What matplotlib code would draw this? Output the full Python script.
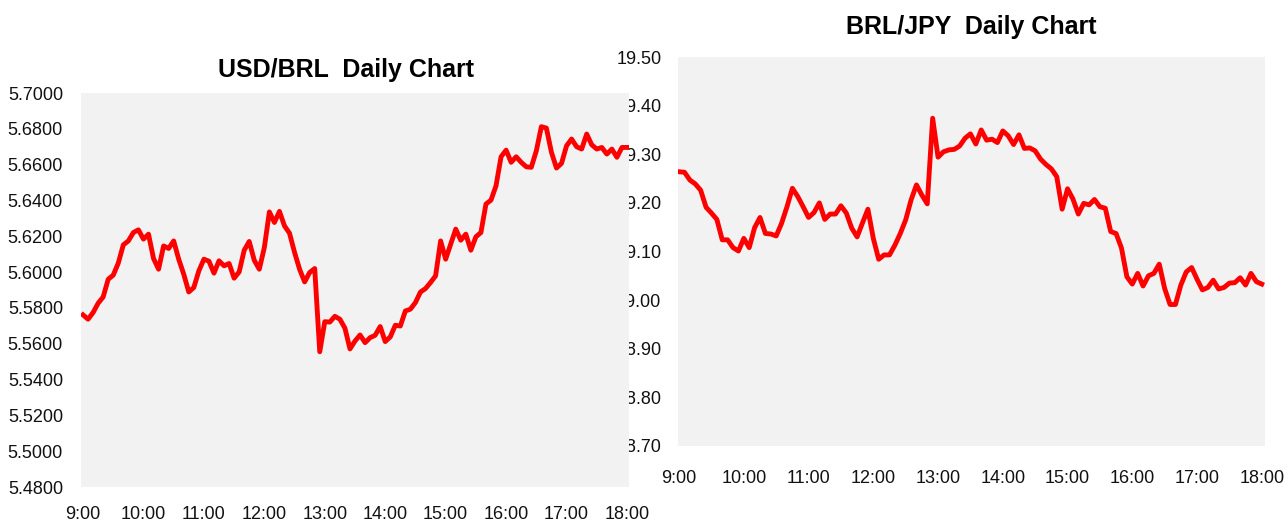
import matplotlib
matplotlib.use("Agg")
import matplotlib.pyplot as plt
import numpy as np

plt.rcParams['font.family'] = ['Liberation Sans', 'DejaVu Sans']

# 5-minute quotes, 9:00 -> 18:00
usdbrl = [
    5.5761, 5.5737, 5.5774, 5.5826, 5.5861, 5.5960, 5.5983, 5.6050, 5.6152, 5.6174,
    5.6221, 5.6236, 5.6184, 5.6212, 5.6076, 5.6016, 5.6146, 5.6132, 5.6174, 5.6072,
    5.5988, 5.5889, 5.5914, 5.6007, 5.6072, 5.6061, 5.5994, 5.6063, 5.6035, 5.6048,
    5.5966, 5.6001, 5.6122, 5.6171, 5.6066, 5.6016, 5.6137, 5.6336, 5.6277, 5.6339,
    5.6258, 5.6217, 5.6110, 5.6016, 5.5945, 5.5998, 5.6020, 5.5555, 5.5723, 5.5721,
    5.5753, 5.5737, 5.5687, 5.5571, 5.5615, 5.5649, 5.5606, 5.5634, 5.5647, 5.5696,
    5.5612, 5.5638, 5.5703, 5.5699, 5.5783, 5.5793, 5.5830, 5.5889, 5.5908, 5.5942,
    5.5979, 5.6174, 5.6072, 5.6156, 5.6240, 5.6178, 5.6212, 5.6122, 5.6197, 5.6221,
    5.6380, 5.6402, 5.6482, 5.6644, 5.6681, 5.6613, 5.6644, 5.6613, 5.6588, 5.6585,
    5.6677, 5.6812, 5.6804, 5.6669, 5.6581, 5.6607, 5.6705, 5.6743, 5.6700, 5.6687,
    5.6771, 5.6711, 5.6687, 5.6696, 5.6659, 5.6687, 5.6641, 5.6696, 5.6696,
]

brljpy = [
    19.264, 19.263, 19.247, 19.239, 19.226, 19.191, 19.179, 19.166, 19.124, 19.124,
    19.108, 19.101, 19.127, 19.108, 19.149, 19.170, 19.137, 19.136, 19.132, 19.158,
    19.192, 19.230, 19.213, 19.192, 19.170, 19.180, 19.200, 19.166, 19.177, 19.177,
    19.194, 19.179, 19.148, 19.130, 19.159, 19.187, 19.127, 19.084, 19.093, 19.093,
    19.113, 19.137, 19.165, 19.206, 19.237, 19.216, 19.198, 19.374, 19.294, 19.305,
    19.309, 19.310, 19.317, 19.333, 19.342, 19.321, 19.350, 19.329, 19.331, 19.324,
    19.348, 19.338, 19.320, 19.340, 19.312, 19.313, 19.307, 19.290, 19.279, 19.270,
    19.254, 19.187, 19.229, 19.208, 19.177, 19.199, 19.196, 19.207, 19.192, 19.189,
    19.141, 19.137, 19.107, 19.048, 19.033, 19.055, 19.029, 19.050, 19.055, 19.074,
    19.024, 18.991, 18.991, 19.031, 19.058, 19.067, 19.043, 19.021, 19.026, 19.041,
    19.023, 19.026, 19.035, 19.036, 19.046, 19.031, 19.055, 19.038, 19.033,
]

minutes = np.arange(len(usdbrl)) * 5          # minutes after 9:00
hour_ticks = list(range(0, 541, 60))
hour_labels = [f"{9 + m // 60}:00" for m in hour_ticks]

W, H = 1288, 525
fig = plt.figure(figsize=(W / 100, H / 100), dpi=100)


def px_axes(x0, y0, x1, y1):
    return fig.add_axes([x0 / W, 1 - y1 / H, (x1 - x0) / W, (y1 - y0) / H])


def style(ax, xlim, ylim, yticks, yfmt, xpad, ypad):
    ax.set_facecolor('#f2f2f2')
    for s in ax.spines.values():
        s.set_visible(False)
    ax.set_xlim(*xlim)
    ax.set_ylim(*ylim)
    ax.set_xticks(hour_ticks)
    ax.set_xticklabels(hour_labels)
    ax.set_yticks(yticks)
    ax.set_yticklabels([yfmt % v for v in yticks])
    ax.tick_params(axis='both', length=0, labelsize=13, colors='#111111')
    ax.tick_params(axis='x', pad=xpad)
    ax.tick_params(axis='y', pad=ypad)


# right chart first so the left one sits on top of it
ax_r = px_axes(678, 57, 1265, 446)
ax_r.set_zorder(1)
ax_r.plot(minutes, brljpy, color='#ff0000', lw=3.5, solid_joinstyle='round')
style(ax_r, (-1, 543), (18.70, 19.50), np.round(np.arange(18.7, 19.51, 0.1), 2), '%.2f', 17, 12)

ax_l = px_axes(81, 93, 629, 487)
ax_l.set_zorder(2)
ax_l.plot(minutes, usdbrl, color='#ff0000', lw=3.5, solid_joinstyle='round')
style(ax_l, (-2, 542), (5.48, 5.70), np.round(np.arange(5.48, 5.701, 0.02), 2), '%.4f', 14, 13)

fig.text(346 / W, 1 - 70 / H, 'USD/BRL  Daily Chart', ha='center', va='center',
         fontsize=18, fontweight='bold')
fig.text(971 / W, 1 - 27 / H, 'BRL/JPY  Daily Chart', ha='center', va='center',
         fontsize=18, fontweight='bold')

fig.savefig('out.png', dpi=100)
